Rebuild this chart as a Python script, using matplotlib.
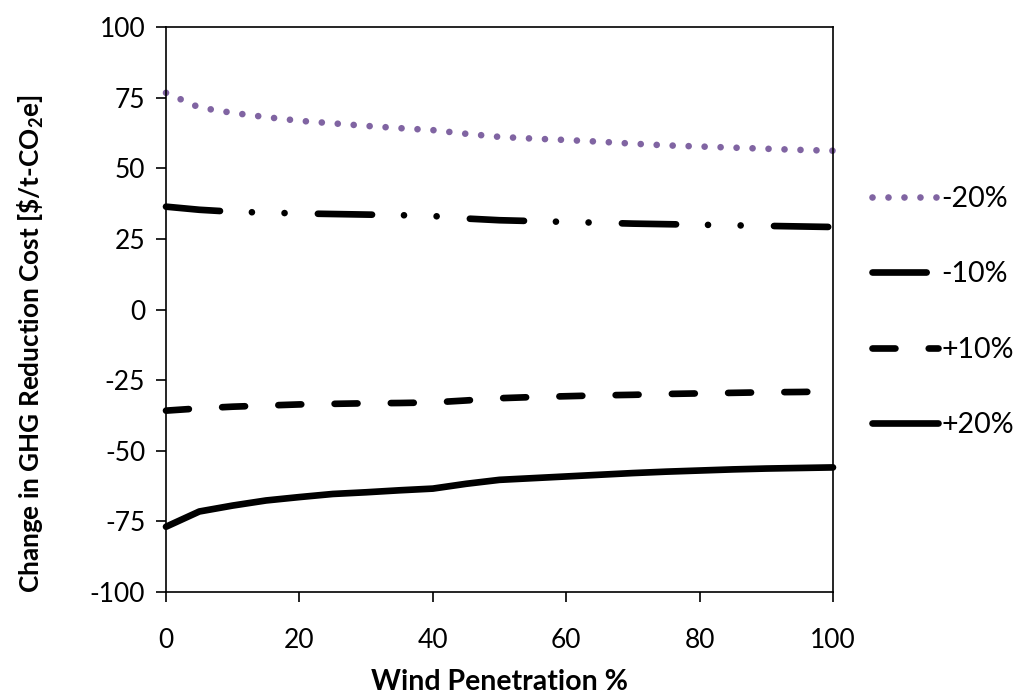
import matplotlib.pyplot as plt

plt.rcParams['font.family'] = ['Lato', 'DejaVu Sans']
plt.rcParams['lines.scale_dashes'] = False
plt.rcParams['axes.unicode_minus'] = False
plt.rcParams['mathtext.fontset'] = 'custom'
plt.rcParams['mathtext.rm'] = 'Lato:bold'

# wind penetration (%)
wind = [0, 5, 10, 15, 20, 25, 30, 35, 40, 45, 50, 55, 60, 65, 70, 75, 80, 85, 90, 95, 100]

# change in GHG reduction cost [$/t-CO2e] for each sensitivity case
minus20 = [76.7, 71.5, 69.6, 68.1, 66.8, 65.9, 65.0, 64.2, 63.5, 62.2, 61.1,
           60.5, 60.0, 59.4, 58.7, 58.1, 57.7, 57.3, 56.9, 56.5, 56.2]
minus10 = [36.4, 35.3, 34.6, 34.3, 34.0, 33.8, 33.6, 33.4, 33.1, 32.2, 31.6,
           31.3, 31.0, 30.7, 30.4, 30.2, 30.0, 29.8, 29.6, 29.4, 29.2]
plus10 = [-35.8, -35.0, -34.4, -34.0, -33.6, -33.4, -33.2, -33.1, -32.9, -32.2, -31.4,
          -31.0, -30.7, -30.4, -30.2, -29.9, -29.7, -29.5, -29.3, -29.2, -29.0]
plus20 = [-76.9, -71.5, -69.4, -67.6, -66.4, -65.3, -64.7, -64.0, -63.4, -61.7, -60.3,
          -59.7, -59.1, -58.5, -57.9, -57.4, -57.0, -56.6, -56.3, -56.1, -55.9]

labels = ['-20%', '-10%', '+10%', '+20%']

fig = plt.figure(figsize=(10.21, 6.96), dpi=100)
ax = fig.add_axes([166 / 1021, 1 - 592 / 696, 667 / 1021, 565 / 696])

common = dict(lw=4.8, dash_capstyle='round', solid_capstyle='round', clip_on=False)
ax.plot(wind, minus20, color='#8064A2', linestyle=(0, (0.01, 11.5)), label=labels[0], **common)
ax.plot(wind, minus10, color='black', linestyle=(0, (39, 23, 0.01, 23.5, 0.01, 24)), label=labels[1], **common)
ax.plot(wind, plus10, color='black', linestyle=(0, (16.5, 24)), label=labels[2], **common)
ax.plot(wind, plus20, color='black', linestyle='-', label=labels[3], **common)

ax.set_xlim(0, 100)
ax.set_ylim(-100, 100)
ax.set_xticks(range(0, 101, 20))
ax.set_yticks(range(-100, 101, 25))

for s in ax.spines.values():
    s.set_linewidth(1.2)
    s.set_color('black')

ax.tick_params(axis='both', direction='out', length=7, width=1.2, labelsize=19)
ax.tick_params(axis='x', pad=19)
ax.tick_params(axis='y', pad=8)

ax.set_xlabel('Wind Penetration %', fontsize=20.5, fontweight='bold')
ax.set_ylabel(r'Change in GHG Reduction Cost [\$/t-CO$_\mathrm{2}$e]', fontsize=18.8, fontweight='bold')
ax.xaxis.set_label_coords(0.5, -0.137)
ax.yaxis.set_label_coords(-0.18, 0.44)

fig.legend(loc='center left', bbox_to_anchor=(872 / 1021, 1 - 312 / 696), frameon=False,
           fontsize=20.5, handlelength=2.32, handletextpad=0.12, labelspacing=1.74,
           borderpad=0, borderaxespad=0)

fig.savefig('out.png', dpi=100)
